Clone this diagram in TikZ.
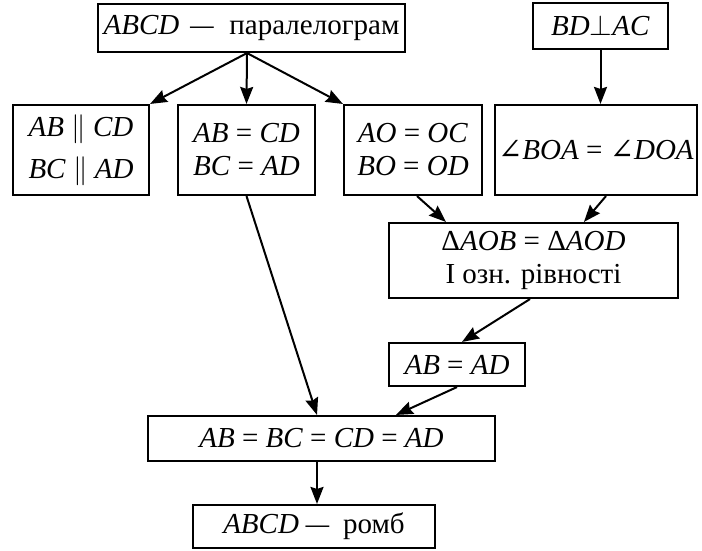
\RequirePackage{fix-cm}
\documentclass[tikz,border=0pt]{standalone}
\usepackage{fontspec}
\setmainfont{Liberation Serif}
\newfontfamily\symfont{DejaVu Serif}
\usetikzlibrary{arrows.meta,calc}
\newcommand{\iv}[1]{\textit{#1}}
\newcommand{\ldash}{\scalebox{1.6}[1]{–}}
\newcommand{\ang}{{\symfont ∠}}
\begin{document}
\begin{tikzpicture}[x=1pt,y=-1pt,
 box/.style={draw,line width=2.1pt,inner sep=0pt,align=center,font=\fontsize{29}{33}\selectfont},
 arr/.style={line width=2pt,-{Stealth[length=17pt,width=13pt,inset=2pt]}}]
\useasboundingbox (0,0) rectangle (702,550);
\node[box,minimum width=307pt,minimum height=48pt] (top) at (251.5,28) {\iv{ABCD}\hspace{11pt}\ldash\hspace{16pt}паралелограм};
\node[box,minimum width=135pt,minimum height=46pt] (bd) at (600.5,26) {\iv{BD}$\perp$\iv{AC}};
\node[box,minimum width=136pt,minimum height=90pt] (par) at (81,150) {\iv{AB} $\parallel$ \iv{CD}\\[9pt]\iv{BC} $\parallel$ \iv{AD}};
\node[box,minimum width=137pt,minimum height=90pt] (eq) at (246.5,150) {\iv{AB} = \iv{CD}\\\iv{BC} = \iv{AD}};
\node[box,minimum width=138pt,minimum height=90pt] (ao) at (413,150) {\iv{AO} = \iv{OC}\\\iv{BO} = \iv{OD}};
\node[box,minimum width=202pt,minimum height=90pt] (ang) at (596,150) {\ang\iv{BOA} = \ang\iv{DOA}};
\node[box,minimum width=289pt,minimum height=75pt] (tri) at (533.5,260.5) {Δ\iv{AOB} = Δ\iv{AOD}\\І озн. рівності};
\node[box,minimum width=136pt,minimum height=43pt] (abad) at (457,364.5) {\iv{AB} = \iv{AD}};
\node[box,minimum width=347pt,minimum height=45pt] (big) at (321.5,438.5) {\iv{AB} = \iv{BC} = \iv{CD} = \iv{AD}};
\node[box,minimum width=242pt,minimum height=43pt] (romb) at (314,526.5) {\iv{ABCD}\hspace{7pt}\ldash\hspace{14pt}ромб};
\coordinate (s) at ([xshift=-4.5pt]top.south);
\draw[arr] (s) -- (par.north east);
\draw[arr] (s) -- (eq.north);
\draw[arr] (s) -- (ao.north west);
\draw[arr] (bd.south) -- (bd.south |- ang.north);
\draw[arr] ([xshift=4pt]ao.south) -- ([xshift=58pt]tri.north west);
\draw[arr] ([xshift=10pt]ang.south) -- ([xshift=196pt]tri.north west);
\draw[arr] ([xshift=-3.5pt]tri.south) -- ([xshift=5pt]abad.north);
\draw[arr] (abad.south) -- ([xshift=8pt]big.north west -| abad.west);
\draw[arr] (eq.south) -- ([xshift=-4.5pt]big.north);
\draw[arr] ([xshift=-4.5pt]big.south) -- ([xshift=-4.5pt]big.south |- romb.north);
\end{tikzpicture}
\end{document}
